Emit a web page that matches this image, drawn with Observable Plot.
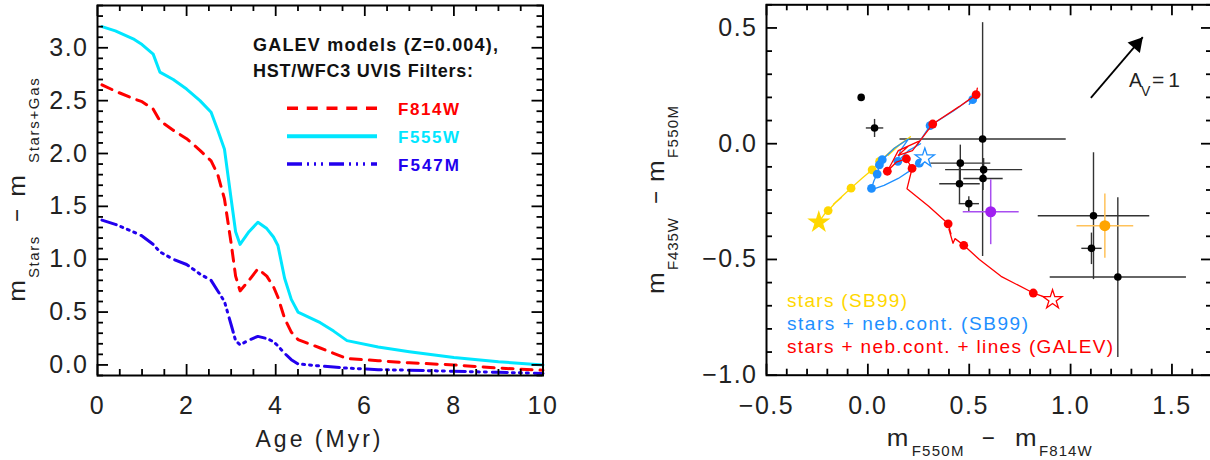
<!DOCTYPE html>
<html><head><meta charset="utf-8">
<script src="https://cdn.jsdelivr.net/npm/d3@7"></script>
<script src="https://cdn.jsdelivr.net/npm/@observablehq/plot@0.6"></script>
<style>
html,body{margin:0;padding:0;background:#fff;overflow:hidden;}
#wrap{position:relative;width:1210px;height:460px;overflow:hidden;background:#fff;}
</style></head>
<body><div id="wrap"></div>
<script>
// ---------------- LEFT PANEL DATA ----------------
const ages   = [0.1,0.4,0.8,1.0,1.25,1.4,1.7,2.0,2.3,2.55,2.7,2.85,3.0,3.1,3.2,3.4,3.6,3.8,3.95,4.05,4.2,4.35,4.5,4.75,5.0,5.3,5.6,6.3,7.0,8.0,9.0,10.0];
const f814w  = [2.65,2.59,2.52,2.49,2.42,2.31,2.22,2.14,2.03,1.93,1.80,1.57,1.15,0.84,0.70,0.80,0.91,0.84,0.74,0.64,0.44,0.31,0.24,0.20,0.16,0.11,0.06,0.04,0.02,0.0,-0.03,-0.05];
const f555w  = [3.20,3.16,3.085,3.03,2.94,2.77,2.70,2.61,2.50,2.39,2.22,2.04,1.57,1.26,1.14,1.26,1.35,1.29,1.21,1.13,0.82,0.62,0.50,0.45,0.40,0.32,0.23,0.17,0.125,0.07,0.03,0.0];
const f547m  = [1.37,1.33,1.26,1.22,1.14,1.07,1.00,0.95,0.86,0.80,0.70,0.60,0.38,0.23,0.19,0.235,0.27,0.25,0.22,0.18,0.11,0.05,0.01,0.0,-0.01,-0.02,-0.03,-0.045,-0.05,-0.06,-0.07,-0.08];
const filterNames = ["F814W","F555W","F547M"];
const ageTicks = [0,2,4,6,8,10];
const deltaTicks = [0.0,0.5,1.0,1.5,2.0,2.5,3.0];

// ---------------- RIGHT PANEL DATA ----------------
const obsX    = [-0.033,0.033,0.566,0.456,0.452,0.571,0.568,0.498,1.113,1.103,1.233];
const obsY    = [0.200,0.068,0.020,-0.084,-0.173,-0.112,-0.150,-0.259,-0.311,-0.452,-0.576];
const obsXErr = [0.012,0.043,0.410,0.148,0.100,0.190,0.097,0.050,0.275,0.050,0.336];
const obsYErr = [0.012,0.039,0.505,0.080,0.085,0.050,0.050,0.032,0.274,0.068,0.345];
const specX    = [0.606,1.169];
const specY    = [-0.294,-0.354];
const specXErr = [0.138,0.140];
const specYErr = [0.140,0.139];
const specNames = ["purple","orange"];
const sb99Track = [[-0.242,-0.339],[-0.215,-0.305],[-0.196,-0.289],[-0.16,-0.255],[-0.13,-0.232],[-0.17,-0.262],[-0.12,-0.222],[-0.083,-0.192],[-0.03,-0.15],[0.021,-0.113],[0.058,-0.076],[0.13,-0.02],[0.21,0.03],[0.15,-0.01],[0.10,-0.05]];
const sb99Dots  = [[-0.196,-0.289],[-0.083,-0.192],[0.021,-0.113],[0.058,-0.076]];
const nebTrack  = [[0.281,-0.062],[0.254,-0.084],[0.22,-0.11],[0.15,-0.15],[0.08,-0.18],[0.03,-0.195],[0.018,-0.193],[0.03,-0.16],[0.046,-0.131],[0.057,-0.091],[0.071,-0.069],[0.13,-0.02],[0.20,0.02],[0.16,-0.03],[0.148,-0.076],[0.20,-0.03],[0.26,0.0],[0.24,-0.01],[0.307,0.078],[0.42,0.14],[0.50,0.19],[0.53,0.21],[0.50,0.17],[0.517,0.19]];
const nebDots   = [[0.254,-0.084],[0.018,-0.193],[0.046,-0.131],[0.057,-0.091],[0.071,-0.069],[0.148,-0.076],[0.307,0.078],[0.517,0.19]];
const galevTrack = [[0.911,-0.674],[0.816,-0.645],[0.657,-0.573],[0.55,-0.50],[0.473,-0.439],[0.43,-0.41],[0.42,-0.43],[0.40,-0.37],[0.41,-0.39],[0.396,-0.346],[0.30,-0.27],[0.193,-0.195],[0.218,-0.107],[0.19,-0.065],[0.14,-0.08],[0.096,-0.119],[0.12,-0.08],[0.15,-0.03],[0.25,0.01],[0.20,-0.01],[0.15,-0.05],[0.22,-0.03],[0.32,0.085],[0.45,0.16],[0.534,0.212],[0.54,0.24]];
const galevDots  = [[0.816,-0.645],[0.473,-0.439],[0.396,-0.346],[0.218,-0.107],[0.19,-0.065],[0.096,-0.119],[0.32,0.085],[0.534,0.212]];
const avVector = [{x1:1.10, y1:0.198, x2:1.356, y2:0.46}];
const colorTicks = [-0.5,0.0,0.5,1.0,1.5];
const colorYTicks = [-1.0,-0.5,0.0,0.5];

// ---------------- helpers ----------------
const FONT = "'Liberation Sans', Arial, Helvetica, sans-serif";
const fmt1 = d3.format(".1f");
function frameTicks(xMajor, xMinor, yMajor, yMinor, iw, ih) {
  const M = 11, m = 6, sw = 1.8;
  return [
    Plot.tickX(xMajor, {x: d => d, insetTop: ih - M, stroke: "#000", strokeWidth: sw}),
    Plot.tickX(xMajor, {x: d => d, insetBottom: ih - M, stroke: "#000", strokeWidth: sw}),
    Plot.tickX(xMinor, {x: d => d, insetTop: ih - m, stroke: "#000", strokeWidth: sw}),
    Plot.tickX(xMinor, {x: d => d, insetBottom: ih - m, stroke: "#000", strokeWidth: sw}),
    Plot.tickY(yMajor, {y: d => d, insetRight: iw - M, stroke: "#000", strokeWidth: sw}),
    Plot.tickY(yMajor, {y: d => d, insetLeft: iw - M, stroke: "#000", strokeWidth: sw}),
    Plot.tickY(yMinor, {y: d => d, insetRight: iw - m, stroke: "#000", strokeWidth: sw}),
    Plot.tickY(yMinor, {y: d => d, insetLeft: iw - m, stroke: "#000", strokeWidth: sw})
  ];
}
const minorOf = (lo, hi, step, majors) => d3.range(Math.round(lo/step), Math.round(hi/step) + 1)
  .map(k => +(k*step).toFixed(3)).filter(v => !majors.some(M => Math.abs(M - v) < 1e-6));

// ---------------- LEFT PLOT ----------------
const L = {w: 600, h: 460, ml: 97, mr: 57.5, mt: 5, mb: 85};
const Liw = L.w - L.ml - L.mr, Lih = L.h - L.mt - L.mb;
const leftRows = ages.map((a, i) => ({age: a, F814W: f814w[i], F555W: f555w[i], F547M: f547m[i]}));
const leftPlot = Plot.plot({
  width: L.w, height: L.h, marginLeft: L.ml, marginRight: L.mr, marginTop: L.mt, marginBottom: L.mb,
  x: {domain: [0, 10]}, y: {domain: [-0.1, 3.4]},
  style: {fontFamily: FONT, background: "transparent", color: "#222", overflow: "visible"},
  marks: [
    Plot.line(leftRows, {x: "age", y: "F547M", stroke: "#2200ee", strokeWidth: 3, strokeDasharray: "15,5,2,5,2,5,2,6"}),
    Plot.line(leftRows, {x: "age", y: "F814W", stroke: "#ff0000", strokeWidth: 3, strokeDasharray: "11,8"}),
    Plot.line(leftRows, {x: "age", y: "F555W", stroke: "#00e6ff", strokeWidth: 3}),
    ...frameTicks(ageTicks, minorOf(0, 10, 0.5, ageTicks), deltaTicks, minorOf(-0.1, 3.4, 0.1, deltaTicks), Liw, Lih),
    Plot.frame({stroke: "#000", strokeWidth: 2}),
    Plot.axisX(ageTicks, {anchor: "bottom", tickSize: 0, tickPadding: 21, fontSize: 25, label: null, tickFormat: d => String(d)}),
    Plot.axisY(deltaTicks, {anchor: "left", tickSize: 0, tickPadding: 9, fontSize: 25, label: null, tickFormat: fmt1})
  ]
});

// ---------------- RIGHT PLOT ----------------
const R = {w: 612, h: 460, ml: 166, mr: 0, mt: 4.3, mb: 85.3};
const Riw = R.w - R.ml - R.mr, Rih = R.h - R.mt - R.mb;
const obsRows = obsX.map((x, i) => ({x, y: obsY[i], xe: obsXErr[i], ye: obsYErr[i]}));
const specRows = specX.map((x, i) => ({x, y: specY[i], xe: specXErr[i], ye: specYErr[i], name: specNames[i]}));
const specColor = {purple: "#a020f0", orange: "#ffa500"};
const specBar = {purple: "#a84ef0", orange: "#ffc25a"};
const trackMarks = (track, dots, color, starFill) => [
  Plot.line(track, {x: d => d[0], y: d => d[1], stroke: color, strokeWidth: 1.3}),
  Plot.dot(dots, {x: d => d[0], y: d => d[1], r: 4.4, fill: color}),
  Plot.dot([track[0]], {x: d => d[0], y: d => d[1], symbol: "star", r: 6, fill: starFill, stroke: color, strokeWidth: 1.3})
];
const rightPlot = Plot.plot({
  width: R.w, height: R.h, marginLeft: R.ml, marginRight: R.mr, marginTop: R.mt, marginBottom: R.mb,
  x: {domain: [-0.5, 1.7]}, y: {domain: [-1.0, 0.6]},
  style: {fontFamily: FONT, background: "transparent", color: "#222", overflow: "visible"},
  marks: [
    Plot.link(obsRows, {x1: d => d.x - d.xe, x2: d => d.x + d.xe, y1: "y", y2: "y", stroke: "#333", strokeWidth: 1.4}),
    Plot.link(obsRows, {x1: "x", x2: "x", y1: d => d.y - d.ye, y2: d => d.y + d.ye, stroke: "#333", strokeWidth: 1.4}),
    Plot.dot(obsRows, {x: "x", y: "y", r: 3.8, fill: "#000"}),
    ...trackMarks(sb99Track, sb99Dots, "#ffd700", "#ffd700"),
    ...trackMarks(nebTrack, nebDots, "#1e8fff", "white"),
    ...trackMarks(galevTrack, galevDots, "#ff0000", "white"),
    Plot.link(specRows, {x1: d => d.x - d.xe, x2: d => d.x + d.xe, y1: "y", y2: "y", stroke: d => specBar[d.name], strokeWidth: 1.5}),
    Plot.link(specRows, {x1: "x", x2: "x", y1: d => d.y - d.ye, y2: d => d.y + d.ye, stroke: d => specBar[d.name], strokeWidth: 1.5}),
    Plot.dot(specRows, {x: "x", y: "y", r: 5.5, fill: d => specColor[d.name]}),
    Plot.link(avVector, {x1: "x1", y1: "y1", x2: "x2", y2: "y2", stroke: "#000", strokeWidth: 1.8}),
    Plot.dot(avVector, {x: "x2", y: "y2", symbol: "triangle", r: 6, fill: "#000", rotate: 40.6, dx: -6, dy: 7}),
    ...frameTicks(colorTicks, minorOf(-0.5, 1.7, 0.1, colorTicks), colorYTicks, minorOf(-1.0, 0.6, 0.1, colorYTicks), Riw, Rih),
    Plot.frame({stroke: "#000", strokeWidth: 2}),
    Plot.axisX(colorTicks, {anchor: "bottom", tickSize: 0, tickPadding: 21, fontSize: 25, label: null, tickFormat: fmt1}),
    Plot.axisY(colorYTicks, {anchor: "left", tickSize: 0, tickPadding: 9, fontSize: 25, label: null, tickFormat: fmt1})
  ]
});

const wrap = document.getElementById("wrap");
for (const [svg, x] of [[leftPlot, 0], [rightPlot, 600]]) {
  svg.style.position = "absolute"; svg.style.left = x + "px"; svg.style.top = "0px";
  svg.style.letterSpacing = "1.5px";
  wrap.appendChild(svg);
}

// ---------------- overlay: titles & legends ----------------
const NS = "http://www.w3.org/2000/svg";
const ov = document.createElementNS(NS, "svg");
ov.setAttribute("width", 1210); ov.setAttribute("height", 460);
ov.style.cssText = "position:absolute;left:0;top:0;font-family:" + FONT + ";";
wrap.appendChild(ov);
function txt(parent, s, x, y, o = {}) {
  const t = document.createElementNS(NS, "text");
  t.textContent = s;
  t.setAttribute("x", x); t.setAttribute("y", y);
  t.setAttribute("font-size", o.size || 23);
  t.setAttribute("fill", o.fill || "#222");
  if (o.weight) t.setAttribute("font-weight", o.weight);
  if (o.len) { t.setAttribute("textLength", o.len); t.setAttribute("lengthAdjust", o.glyphs ? "spacingAndGlyphs" : "spacing"); }
  parent.appendChild(t); return t;
}
function seg(x1, x2, y, stroke, w, dash) {
  const l = document.createElementNS(NS, "line");
  l.setAttribute("x1", x1); l.setAttribute("x2", x2); l.setAttribute("y1", y); l.setAttribute("y2", y);
  l.setAttribute("stroke", stroke); l.setAttribute("stroke-width", w);
  if (dash) l.setAttribute("stroke-dasharray", dash);
  ov.appendChild(l);
}
// left legend
txt(ov, "GALEV models (Z=0.004),", 253, 50.7, {size: 18, weight: "bold", fill: "#111", len: 245});
txt(ov, "HST/WFC3 UVIS Filters:", 253, 77.3, {size: 18, weight: "bold", fill: "#111", len: 220});
const legendColors = ["#ff0000", "#00e6ff", "#2200ee"];
const legendDash = ["11,8.75", null, "15,5,2,5,2,5,2,6"];
filterNames.forEach((n, i) => {
  const yy = 108.3 + i * 27.9;
  seg(287, 377, yy, legendColors[i], i === 1 ? 4 : 3.5, legendDash[i]);
  txt(ov, n, 398, yy + 6.6, {size: 17, weight: "bold", fill: legendColors[i], len: 61});
});
// left x title
txt(ov, "Age (Myr)", 255.5, 446.7, {size: 23, len: 125});
// right x title
txt(ov, "m", 886.7, 445.5, {size: 24, len: 21.6, glyphs: true});
txt(ov, "F550M", 911.7, 456, {size: 15, len: 51.7});
txt(ov, "\u2212", 981.7, 445.5, {size: 24, len: 13, glyphs: true});
txt(ov, "m", 1015, 445.5, {size: 24, len: 21.6, glyphs: true});
txt(ov, "F814W", 1039, 456, {size: 15, len: 52.7});
// rotated y titles
function ytitle(bx, parts) {
  const g = document.createElementNS(NS, "g");
  g.setAttribute("transform", "rotate(-90)");
  ov.appendChild(g);
  for (const p of parts) txt(g, p.s, -p.y, p.sub ? bx + 14 : bx, {size: p.sub ? 15 : 24, len: p.len, glyphs: p.glyphs});
}
ytitle(25, [
  {s: "m", y: 301.7, len: 21.7, glyphs: true},
  {s: "Stars", y: 278, len: 41.3, sub: true},
  {s: "\u2212", y: 222, len: 13, glyphs: true},
  {s: "m", y: 196.7, len: 21.7, glyphs: true},
  {s: "Stars+Gas", y: 163, len: 84.7, sub: true}
]);
ytitle(664, [
  {s: "m", y: 294, len: 21.7, glyphs: true},
  {s: "F435W", y: 270, len: 52, sub: true},
  {s: "\u2212", y: 204, len: 13, glyphs: true},
  {s: "m", y: 182, len: 21.7, glyphs: true},
  {s: "F550M", y: 158, len: 52, sub: true}
]);
// A_V = 1
txt(ov, "A", 1129, 87, {size: 21, len: 13, glyphs: true});
txt(ov, "V", 1141, 95.5, {size: 14});
txt(ov, "=1", 1152, 87, {size: 21, len: 28});
// right legend
txt(ov, "stars (SB99)", 787, 306.7, {size: 19, fill: "#ffd700", len: 120});
txt(ov, "stars + neb.cont. (SB99)", 787, 330, {size: 19, fill: "#1e8fff", len: 241});
txt(ov, "stars + neb.cont. + lines (GALEV)", 787, 352.7, {size: 19, fill: "#ff0000", len: 326});
</script></body></html>
